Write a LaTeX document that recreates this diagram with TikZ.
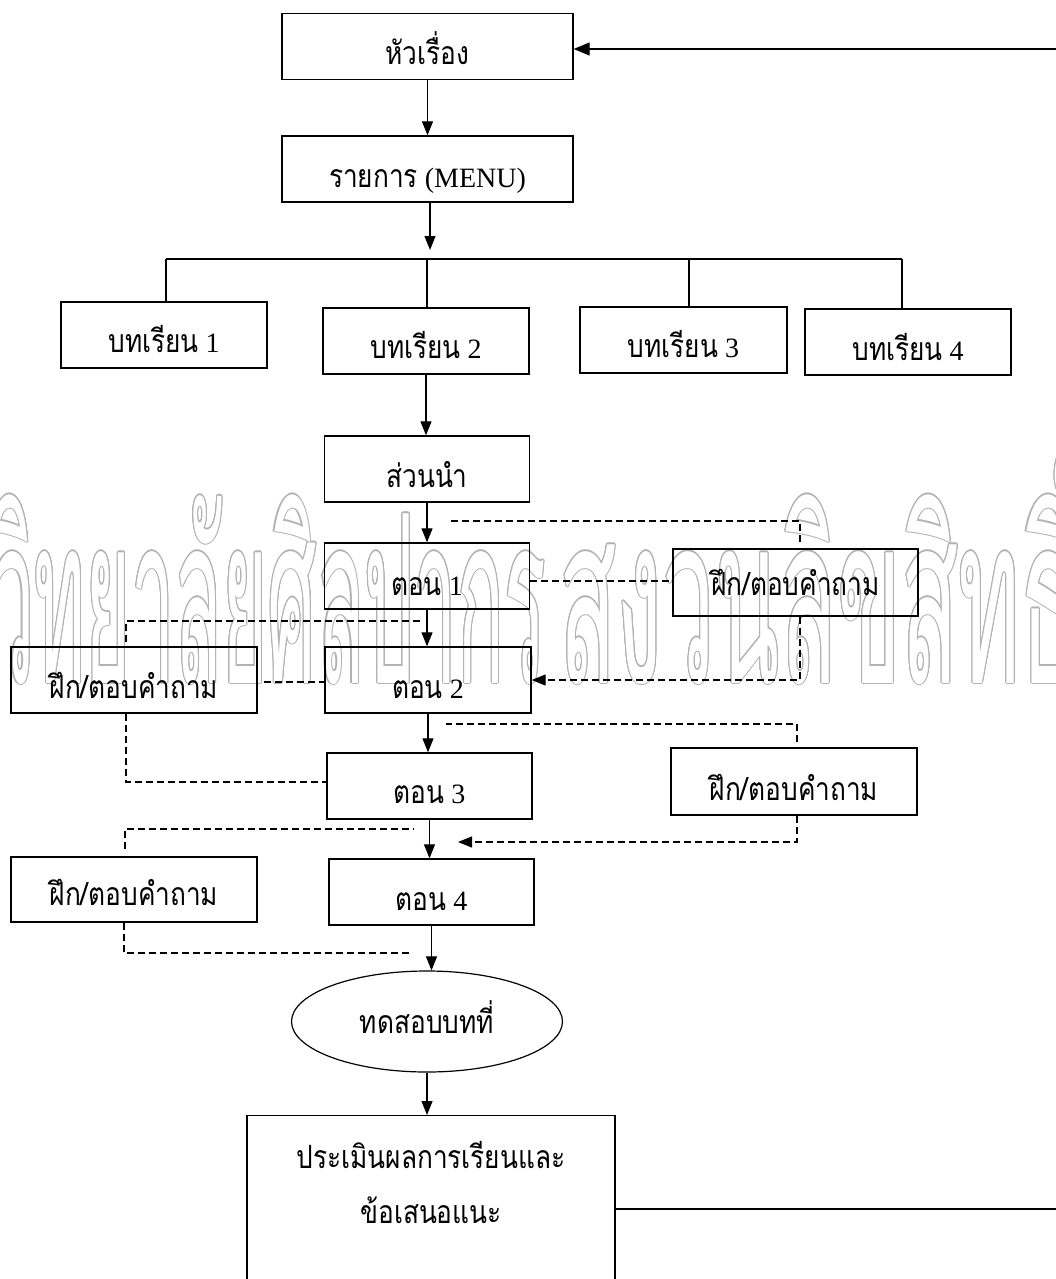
\documentclass[tikz,border=0pt]{standalone}
\usepackage{fontspec}
\setmainfont{Liberation Serif}
\newfontfamily\thaifont[Script=Thai,FakeStretch=0.82]{Loma}
\newfontfamily\stampfont[Script=Thai,FakeStretch=0.33]{Loma}
\newfontfamily\stampfontwide[Script=Thai,FakeStretch=0.40]{Loma}
\usetikzlibrary{arrows.meta,shapes.geometric}
\newcommand\tht[1]{{\fontsize{32}{38}\thaifont #1}}

\begin{document}
\begin{tikzpicture}[x=1pt,y=-1pt,
  box/.style={draw,line width=1.4pt,minimum height=66pt,inner sep=0pt,
              text height=36pt,text depth=0pt,
              font=\fontsize{28}{34}\selectfont},
  lbl/.style={inner sep=0pt,font=\fontsize{28}{34}\selectfont},
  tip/.style={-{Triangle[length=14pt,width=11pt]}},
  flow/.style={line width=1.1pt,tip},
  bus/.style={line width=1.1pt},
  link/.style={line width=1.2pt,dash pattern=on 7pt off 4pt},
  stamp/.style={inner sep=0pt,font=\fontsize{235}{235}\stampfont},
  stampwide/.style={inner sep=0pt,font=\fontsize{235}{235}\stampfontwide}]
\useasboundingbox (0,0) rectangle (1056,1279);
\clip (0,0) rectangle (1056,1279);

% background stamp, outlined lettering
\foreach \a in {0,30,...,330}{
  \node[stamp,text=gray!60,anchor=base east,xshift={cos(\a)*1.1pt},yshift={sin(\a)*1.1pt}] at (546,683) {มหาวิทยาลัยศิลปากร};
  \node[stampwide,text=gray!60,anchor=base west,xshift={cos(\a)*1.1pt},yshift={sin(\a)*1.1pt}] at (559,683) {สงวนลิขสิทธิ์};
}
\node[stamp,text=white,anchor=base east] (stampA) at (546,683) {มหาวิทยาลัยศิลปากร};
\node[stampwide,text=white,anchor=base west] (stampB) at (559,683) {สงวนลิขสิทธิ์};

% main column
\node[box,minimum width=291pt,text height=37pt] (title) at (427.5,46.5) {\tht{หัวเรื่อง}};
\node[box,minimum width=291pt] (menu) at (427.5,169) {\tht{รายการ} (MENU)};
\node[box,minimum width=206pt,text height=34pt] (b1) at (164,335) {\tht{บทเรียน} 1};
\node[box,minimum width=206pt,text height=34pt] (b2) at (426,341) {\tht{บทเรียน} 2};
\node[box,minimum width=207pt,text height=34pt] (b3) at (683.5,340) {\tht{บทเรียน} 3};
\node[box,minimum width=206pt] (b4) at (908,342) {\tht{บทเรียน} 4};
\node[box,minimum width=205pt] (intro) at (427,469) {\tht{ส่วนนำ}};
\node[box,minimum width=205pt,text height=38pt] (s1) at (427,576) {\tht{ตอน} 1};
\node[box,minimum width=206pt] (s2) at (428,680) {\tht{ตอน} 2};
\node[box,minimum width=205pt,text height=34pt] (s3) at (429.5,786) {\tht{ตอน} 3};
\node[box,minimum width=205pt] (s4) at (431.5,892) {\tht{ตอน} 4};
\node[box,ellipse,line width=1.2pt,minimum width=271pt,minimum height=101pt,text height=23pt] (test) at (427,1021.5) {\tht{ทดสอบบทที่}};
\node[box,anchor=north,minimum width=368pt,minimum height=200pt] (eval) at (431,1115) {};
\node[lbl,anchor=base] (evalA) at (431,1168) {\tht{ประเมินผลการเรียนและ}};
\node[lbl,anchor=base] (evalB) at (431,1223) {\tht{ข้อเสนอแนะ}};

% practice boxes
\node[box,minimum width=245pt,minimum height=67pt,text height=25pt] (p1) at (795.5,582.5) {\tht{ฝึก/ตอบคำถาม}};
\node[box,minimum width=246pt] (p2) at (134,680) {\tht{ฝึก/ตอบคำถาม}};
\node[box,minimum width=246pt,minimum height=67pt,text height=37pt] (p3) at (794,781.5) {\tht{ฝึก/ตอบคำถาม}};
\node[box,minimum width=246pt,minimum height=65pt,text height=31pt] (p4) at (134,889.5) {\tht{ฝึก/ตอบคำถาม}};

% branching to the lessons
\coordinate (busin) at (430,250);
\coordinate (d1) at (166,259);
\coordinate (d2) at (427,259);
\coordinate (d3) at (689,259);
\coordinate (d4) at (902,259);
\draw[flow] (title.south) -- (title.south |- menu.north);
\draw[flow] (menu.south -| busin) -- (busin);
\draw[bus] (d1) -- (d4);
\draw[bus] (d1) -- (d1 |- b1.north);
\draw[bus] (d2) -- (d2 |- b2.north);
\draw[bus] (d3) -- (d3 |- b3.north);
\draw[bus] (d4) -- (d4 |- b4.north);

% lesson 2 flow
\draw[flow] (b2.south) -- (b2.south |- intro.north);
\draw[flow] (intro.south) -- (intro.south |- s1.north);
\draw[flow] (s1.south) -- (s1.south |- s2.north);
\draw[flow] (s2.south) -- (s2.south |- s3.north);
\draw[flow] (s3.south) -- (s3.south |- s4.north);
\draw[flow] (s4.south) -- (s4.south |- test.north);
\draw[flow] (test.south) -- (test.south |- eval.north);

% practice links
\coordinate (j1) at (448,521);
\coordinate (j2) at (421,621);
\coordinate (j3) at (446,724);
\coordinate (j4) at (458,842);
\coordinate (j5) at (414,829);
\coordinate (j6) at (412,953);
\coordinate (h1) at (0,581);
\coordinate (h2) at (0,682);
\coordinate (h3) at (0,782);
\draw[link,shorten <=6pt] ([xshift=4.5pt]p1.north) |- (j1);
\draw[link] (s1.east |- h1) -- (p1.west |- h1);
\draw[link,tip] ([xshift=4.5pt]p1.south) |- (s2.east);
\draw[link,shorten <=4pt] ([xshift=-8pt]p2.north) |- (j2);
\draw[link,shorten <=6pt] (p2.east |- h2) -- (s2.west |- h2);
\draw[link] ([xshift=-8pt]p2.south) |- (s3.west |- h3);
\draw[link,shorten <=5pt] ([xshift=3pt]p3.north) |- (j3);
\draw[link,tip] ([xshift=3pt]p3.south) |- (j4);
\draw[link,shorten <=7pt] ([xshift=-9pt]p4.north) |- (j5);
\draw[link] ([xshift=-10pt]p4.south) |- (j6);

% return to the title
\coordinate (ret) at (1075,1209);
\draw[line width=1.4pt,-{Triangle[length=16pt,width=13pt]}] (eval.east |- ret) -- (ret) |- ([yshift=-2.5pt]title.east);
\end{tikzpicture}
\end{document}
